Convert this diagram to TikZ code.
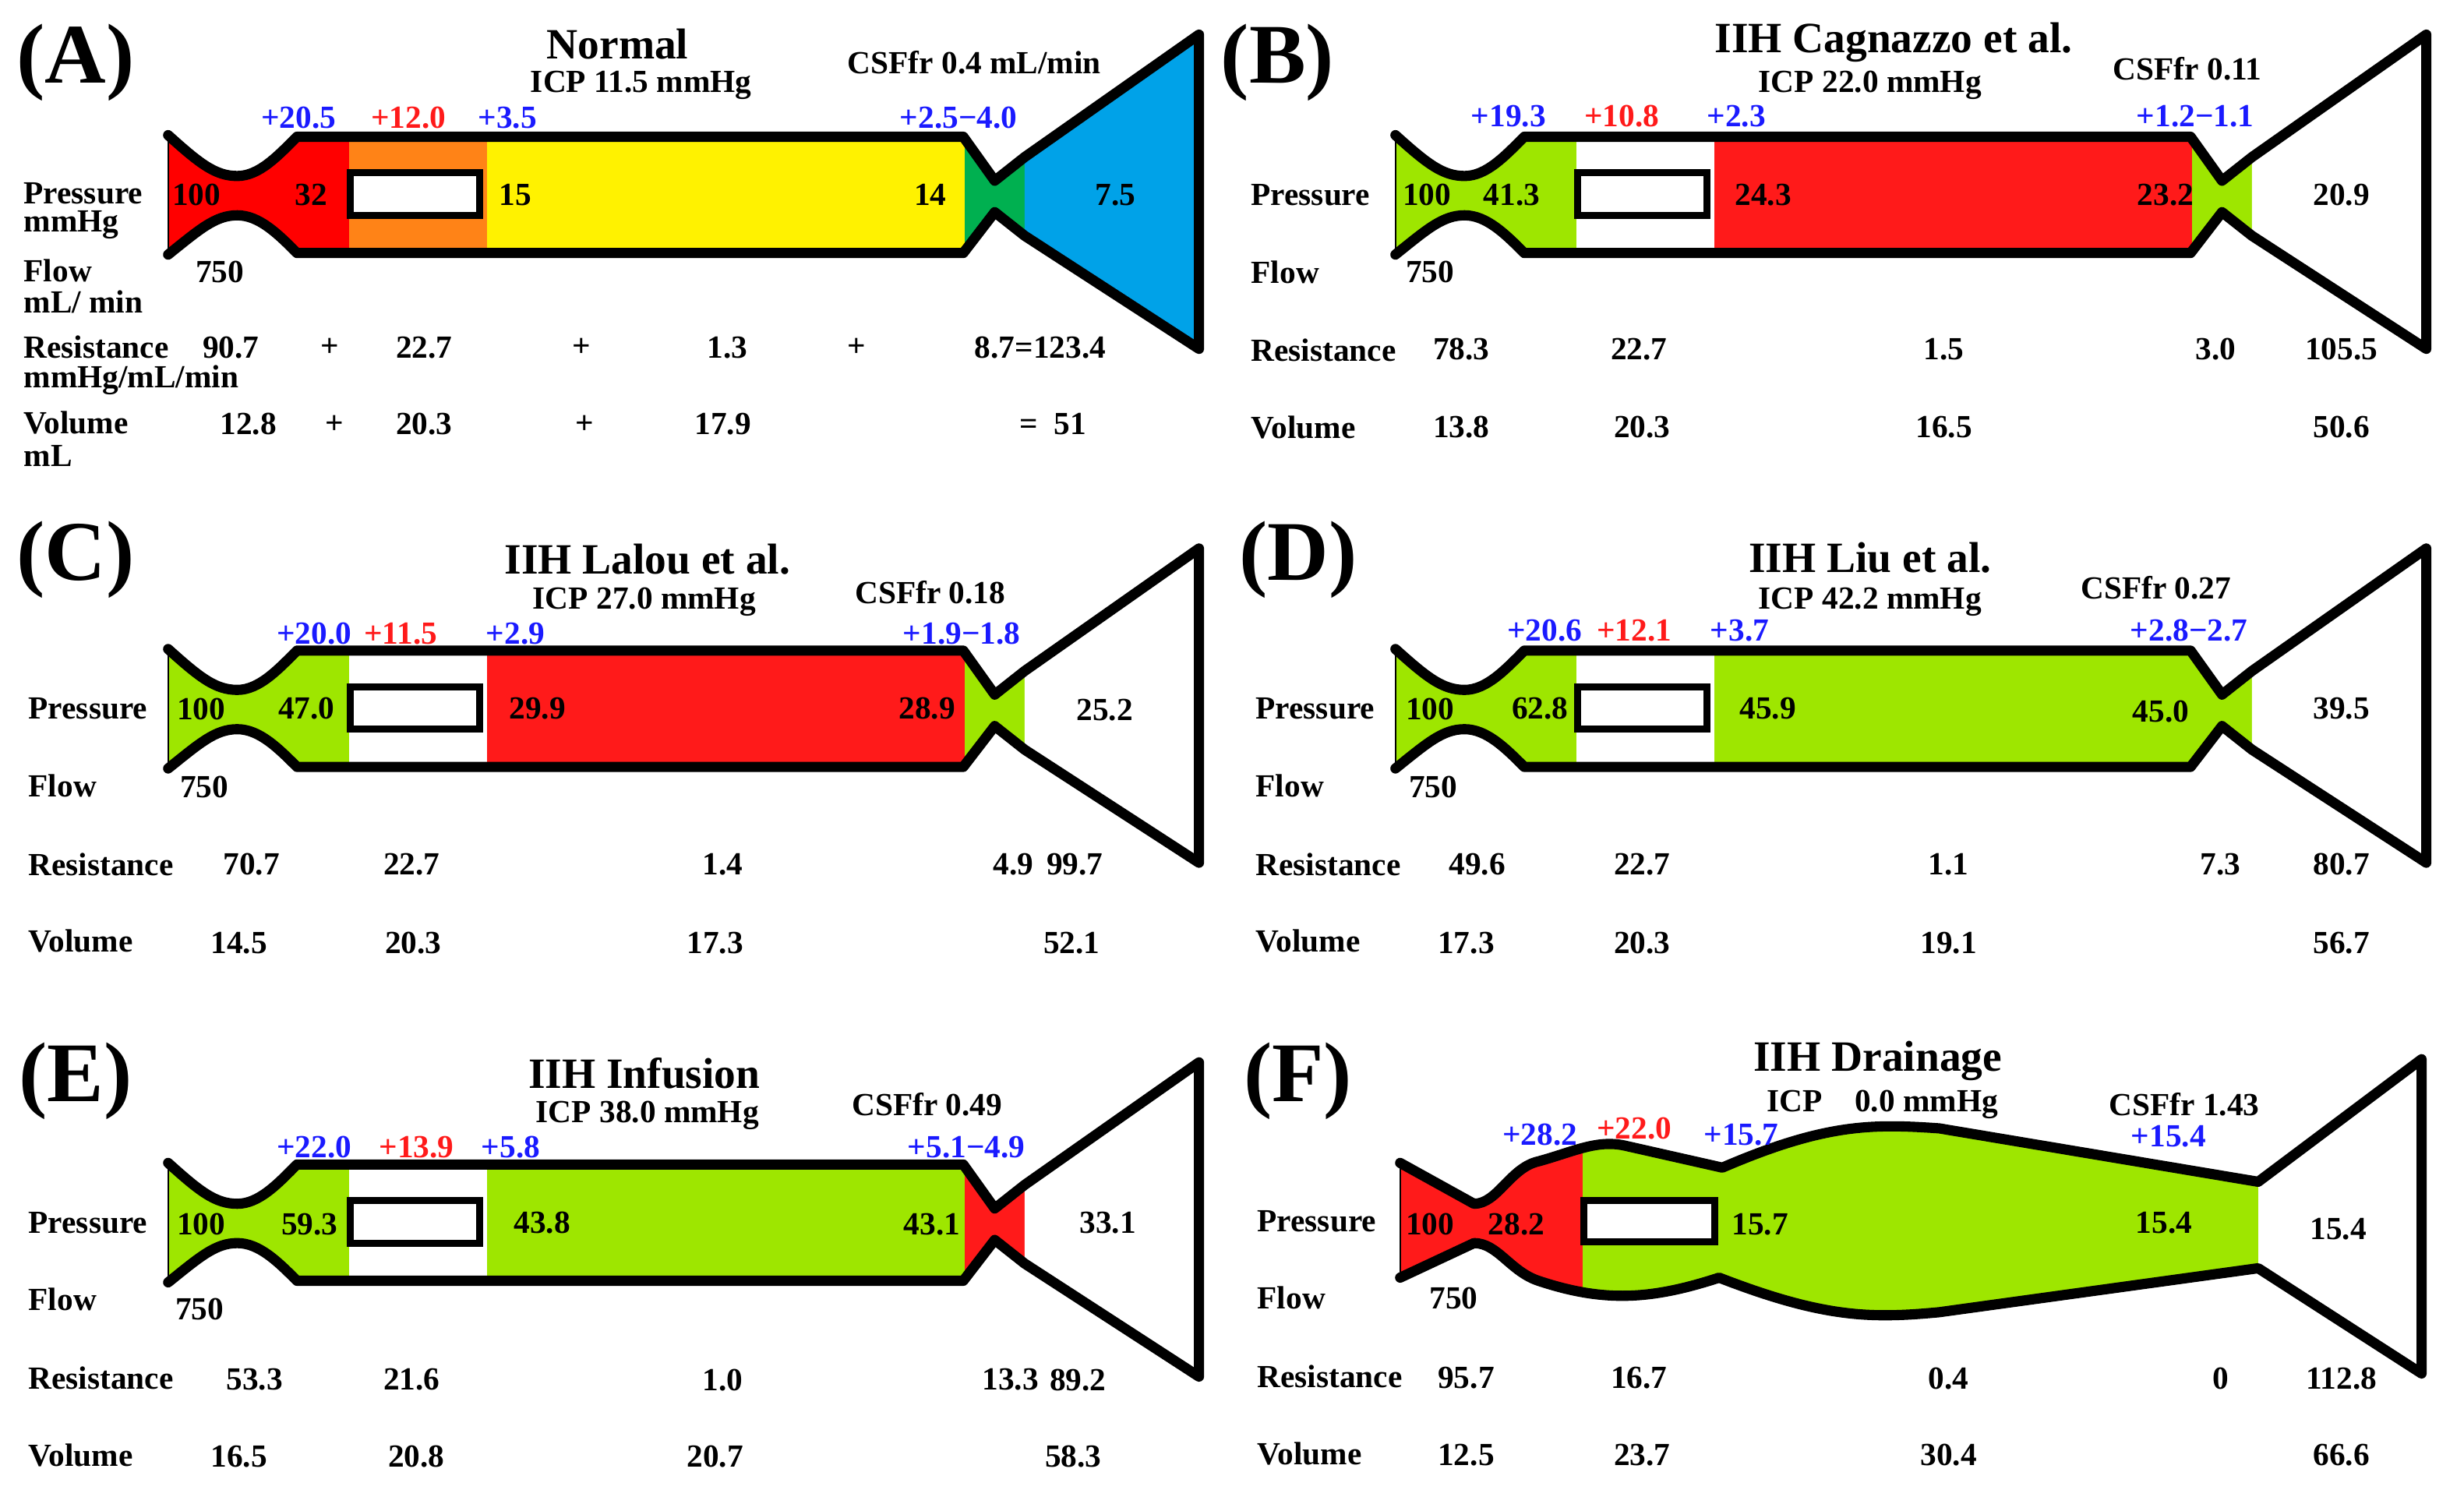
\documentclass[tikz,border=0pt]{standalone}
\usepackage{fontspec}
\setmainfont{Liberation Serif}
\begin{document}
\definecolor{lime}{HTML}{9EE600}
\definecolor{cred}{HTML}{FF1A1A}
\definecolor{pred}{HTML}{FF0000}
\definecolor{orng}{HTML}{FF8317}
\definecolor{yel}{HTML}{FFF200}
\definecolor{grn}{HTML}{00B050}
\definecolor{blu}{HTML}{00A2E8}
\definecolor{blueT}{HTML}{1A1AFF}
\begin{tikzpicture}[x=1pt,y=-1pt,
  v/.style={font=\fontsize{20.5}{21}\bfseries\selectfont,inner sep=0pt},
  lab/.style={v,anchor=west},
  ttl/.style={font=\fontsize{27.5}{29}\bfseries\selectfont,inner sep=0pt},
  big/.style={font=\fontsize{54}{56}\bfseries\selectfont,inner sep=0pt},
  bl/.style={v,text=blueT},
  rd/.style={v,text=cred},
  outl/.style={line width=6.5pt,line join=round,line cap=round},
  box/.style={line width=4.5pt,fill=white}]
\useasboundingbox (0,0) rectangle (1568,948);
\newcommand\tx[4]{\node[v] (#1) at (#2,#3) {#4};}
\newcommand\pn[7]{%
\begin{scope}[shift={(#1,#2)}]
\begin{scope}
\clip (0,-38) .. controls (20,-20) and (30,-12) .. (44,-12) .. controls (58,-12) and (70,-25) .. (82,-37) -- (506,-37) -- (526,-9) -- (545,-24) -- (545,26) -- (526,11) -- (506,37) -- (82,37) .. controls (70,25) and (58,13) .. (44,13) .. controls (30,13) and (20,22) .. (0,38) -- cycle;
\fill[#3] (0,-60) rectangle (115,60);
\fill[#4] (115,-60) rectangle (203,60);
\fill[#5] (203,-60) rectangle (507,60);
\fill[#6] (507,-60) rectangle (546,60);
\end{scope}
\fill[#7] (545,-24) -- (656,-102) -- (656,98) -- (545,26) -- cycle;
\draw[line width=1pt] (0,-38) -- (0,38);
\draw[outl] (0,-38) .. controls (20,-20) and (30,-12) .. (44,-12) .. controls (58,-12) and (70,-25) .. (82,-37) -- (506,-37) -- (526,-9) -- (545,-24) -- (656,-102) -- (656,98) -- (545,26) -- (526,11) -- (506,37) -- (82,37) .. controls (70,25) and (58,13) .. (44,13) .. controls (30,13) and (20,22) .. (0,38);
\draw[box] (116,-14) rectangle (198,13);
\end{scope}}
% panels
\pn{107}{124}{pred}{orng}{yel}{grn}{blu}
\pn{888}{124}{lime}{white}{cred}{lime}{white}
\pn{107}{451}{lime}{white}{cred}{lime}{white}
\pn{888}{451}{lime}{white}{lime}{lime}{white}
\pn{107}{778}{lime}{white}{lime}{cred}{white}
% panel F
\begin{scope}[shift={(891,777)}]
\begin{scope}
\clip (0,-37) -- (47,-11) .. controls (62,-11) and (70,-34) .. (88,-38) .. controls (110,-44) and (125,-52) .. (143,-48) -- (205,-34) .. controls (270,-62) and (300,-62) .. (343,-59) -- (546,-25) -- (546,30) -- (343,58) .. controls (300,62) and (270,62) .. (203,36) .. controls (160,50) and (130,52) .. (88,38) .. controls (70,32) and (62,14) .. (47,14) -- (0,36) -- cycle;
\fill[cred] (0,-80) rectangle (116,80);
\fill[lime] (116,-80) rectangle (547,80);
\end{scope}
\draw[line width=1pt] (0,-37) -- (0,36);
\draw[outl] (0,-37) -- (47,-11) .. controls (62,-11) and (70,-34) .. (88,-38) .. controls (110,-44) and (125,-52) .. (143,-48) -- (205,-34) .. controls (270,-62) and (300,-62) .. (343,-59) -- (546,-25) -- (650,-103) -- (650,97) -- (546,30) -- (343,58) .. controls (300,62) and (270,62) .. (203,36) .. controls (160,50) and (130,52) .. (88,38) .. controls (70,32) and (62,14) .. (47,14) -- (0,36);
\draw[box] (117,-13) rectangle (200,13);
\end{scope}
% letters
\node[big] (LA) at (48,40) {(A)};
\node[big] (LB) at (813,40) {(B)};
\node[big] (LC) at (48,356) {(C)};
\node[big] (LD) at (826,356) {(D)};
\node[big] (LE) at (48,688) {(E)};
\node[big] (LF) at (826,688) {(F)};
% titles
\node[ttl] (TA) at (393,28) {Normal};
\node[ttl] (TB) at (1205,27) {IIH Cagnazzo et al.};
\node[ttl] (TC) at (412,356) {IIH Lalou et al.};
\node[ttl] (TD) at (1190,355) {IIH Liu et al.};
\node[ttl] (TE) at (410,683) {IIH Infusion};
\node[ttl] (TF) at (1195,675) {IIH Drainage};
\tx{IA}{408}{54}{ICP 11.5 mmHg}
\tx{IB}{1190}{54}{ICP 22.0 mmHg}
\tx{IC}{410}{383}{ICP 27.0 mmHg}
\tx{ID}{1190}{383}{ICP 42.2 mmHg}
\tx{IE}{412}{710}{ICP 38.0 mmHg}
\tx{IF}{1198}{703}{ICP\quad 0.0 mmHg}
\tx{CA}{620}{40}{CSFfr 0.4 mL/min}
\tx{CB}{1392}{44}{CSFfr 0.11}
\tx{CC}{592}{377}{CSFfr 0.18}
\tx{CD}{1372}{374}{CSFfr 0.27}
\tx{CE}{590}{703}{CSFfr 0.49}
\tx{CF}{1390}{703}{CSFfr 1.43}
% increments
\node[bl] (dA1) at (190,75) {+20.5}; \node[rd] (dA2) at (260,75) {+12.0}; \node[bl] (dA3) at (323,75) {+3.5}; \node[bl] (dA4) at (610,75) {+2.5−4.0};
\node[bl] (dB1) at (960,74) {+19.3}; \node[rd] (dB2) at (1032,74) {+10.8}; \node[bl] (dB3) at (1105,74) {+2.3}; \node[bl] (dB4) at (1397,74) {+1.2−1.1};
\node[bl] (dC1) at (200,403) {+20.0}; \node[rd] (dC2) at (255,403) {+11.5}; \node[bl] (dC3) at (328,403) {+2.9}; \node[bl] (dC4) at (612,403) {+1.9−1.8};
\node[bl] (dD1) at (983,401) {+20.6}; \node[rd] (dD2) at (1040,401) {+12.1}; \node[bl] (dD3) at (1107,401) {+3.7}; \node[bl] (dD4) at (1393,401) {+2.8−2.7};
\node[bl] (dE1) at (200,730) {+22.0}; \node[rd] (dE2) at (265,730) {+13.9}; \node[bl] (dE3) at (325,730) {+5.8}; \node[bl] (dE4) at (615,730) {+5.1−4.9};
\node[bl] (dF1) at (980,722) {+28.2}; \node[rd] (dF2) at (1040,718) {+22.0}; \node[bl] (dF3) at (1108,722) {+15.7}; \node[bl] (dF4) at (1380,723) {+15.4};
% row labels
\node[lab] (RA1) at (15,123) {Pressure};
\node[lab] (RA1u) at (15,143) {mmHg};
\node[lab] (RA2) at (15,172) {Flow};
\node[lab] (RA2u) at (15,192) {mL/ min};
\node[lab] (RA3) at (15,221) {Resistance};
\node[lab] (RA3u) at (15,242) {mmHg/mL/min};
\node[lab] (RA4) at (15,269) {Volume};
\node[lab] (RA4u) at (15,290) {mL};
\foreach \n/\x/\y in {B/796/124,C/18/451,D/799/451,E/18/778,F/800/777}{
  \node[lab] (R\n1) at (\x,\y) {Pressure};
  \node[lab] (R\n2) at (\x,\y+49) {Flow};
  \node[lab] (R\n3) at (\x,\y+99) {Resistance};
  \node[lab] (R\n4) at (\x,\y+148) {Volume};}
% pressure values
\tx{pA1}{125}{124}{100}\tx{pA2}{198}{124}{32}\tx{pA3}{328}{124}{15}\tx{pA4}{592}{124}{14}\tx{pA5}{710}{124}{7.5}
\tx{pB1}{908}{124}{100}\tx{pB2}{962}{124}{41.3}\tx{pB3}{1122}{124}{24.3}\tx{pB4}{1378}{124}{23.2}\tx{pB5}{1490}{124}{20.9}
\tx{pC1}{128}{451}{100}\tx{pC2}{195}{451}{47.0}\tx{pC3}{342}{451}{29.9}\tx{pC4}{590}{451}{28.9}\tx{pC5}{703}{452}{25.2}
\tx{pD1}{910}{451}{100}\tx{pD2}{980}{451}{62.8}\tx{pD3}{1125}{451}{45.9}\tx{pD4}{1375}{453}{45.0}\tx{pD5}{1490}{451}{39.5}
\tx{pE1}{128}{779}{100}\tx{pE2}{197}{779}{59.3}\tx{pE3}{345}{778}{43.8}\tx{pE4}{593}{779}{43.1}\tx{pE5}{705}{778}{33.1}
\tx{pF1}{910}{779}{100}\tx{pF2}{965}{779}{28.2}\tx{pF3}{1120}{779}{15.7}\tx{pF4}{1377}{778}{15.4}\tx{pF5}{1488}{782}{15.4}
% flow
\tx{fA}{140}{173}{750}\tx{fB}{910}{173}{750}\tx{fC}{130}{501}{750}\tx{fD}{912}{501}{750}\tx{fE}{127}{833}{750}\tx{fF}{925}{826}{750}
% resistance
\tx{rA1}{147}{221}{90.7}\tx{rA2}{210}{221}{+}\tx{rA3}{270}{221}{22.7}\tx{rA4}{370}{221}{+}\tx{rA5}{463}{221}{1.3}\tx{rA6}{545}{221}{+}\tx{rA7}{662}{221}{8.7=123.4}
\tx{rB1}{930}{222}{78.3}\tx{rB2}{1043}{222}{22.7}\tx{rB3}{1237}{222}{1.5}\tx{rB4}{1410}{222}{3.0}\tx{rB5}{1490}{222}{105.5}
\tx{rC1}{160}{550}{70.7}\tx{rC2}{262}{550}{22.7}\tx{rC3}{460}{550}{1.4}\tx{rC4}{645}{550}{4.9}\tx{rC5}{684}{550}{99.7}
\tx{rD1}{940}{550}{49.6}\tx{rD2}{1045}{550}{22.7}\tx{rD3}{1240}{550}{1.1}\tx{rD4}{1413}{550}{7.3}\tx{rD5}{1490}{550}{80.7}
\tx{rE1}{162}{878}{53.3}\tx{rE2}{262}{878}{21.6}\tx{rE3}{460}{878}{1.0}\tx{rE4}{643}{878}{13.3}\tx{rE5}{686}{878}{89.2}
\tx{rF1}{933}{877}{95.7}\tx{rF2}{1043}{877}{16.7}\tx{rF3}{1240}{877}{0.4}\tx{rF4}{1413}{877}{0}\tx{rF5}{1490}{877}{112.8}
% volume
\tx{vA1}{158}{270}{12.8}\tx{vA2}{213}{270}{+}\tx{vA3}{270}{270}{20.3}\tx{vA4}{372}{270}{+}\tx{vA5}{460}{270}{17.9}\tx{vA6}{670}{270}{=\enspace51}
\tx{vB1}{930}{272}{13.8}\tx{vB2}{1045}{272}{20.3}\tx{vB3}{1237}{272}{16.5}\tx{vB4}{1490}{272}{50.6}
\tx{vC1}{152}{600}{14.5}\tx{vC2}{263}{600}{20.3}\tx{vC3}{455}{600}{17.3}\tx{vC4}{682}{600}{52.1}
\tx{vD1}{933}{600}{17.3}\tx{vD2}{1045}{600}{20.3}\tx{vD3}{1240}{600}{19.1}\tx{vD4}{1490}{600}{56.7}
\tx{vE1}{152}{927}{16.5}\tx{vE2}{265}{927}{20.8}\tx{vE3}{455}{927}{20.7}\tx{vE4}{683}{927}{58.3}
\tx{vF1}{933}{926}{12.5}\tx{vF2}{1045}{926}{23.7}\tx{vF3}{1240}{926}{30.4}\tx{vF4}{1490}{926}{66.6}
\end{tikzpicture}
\end{document}
